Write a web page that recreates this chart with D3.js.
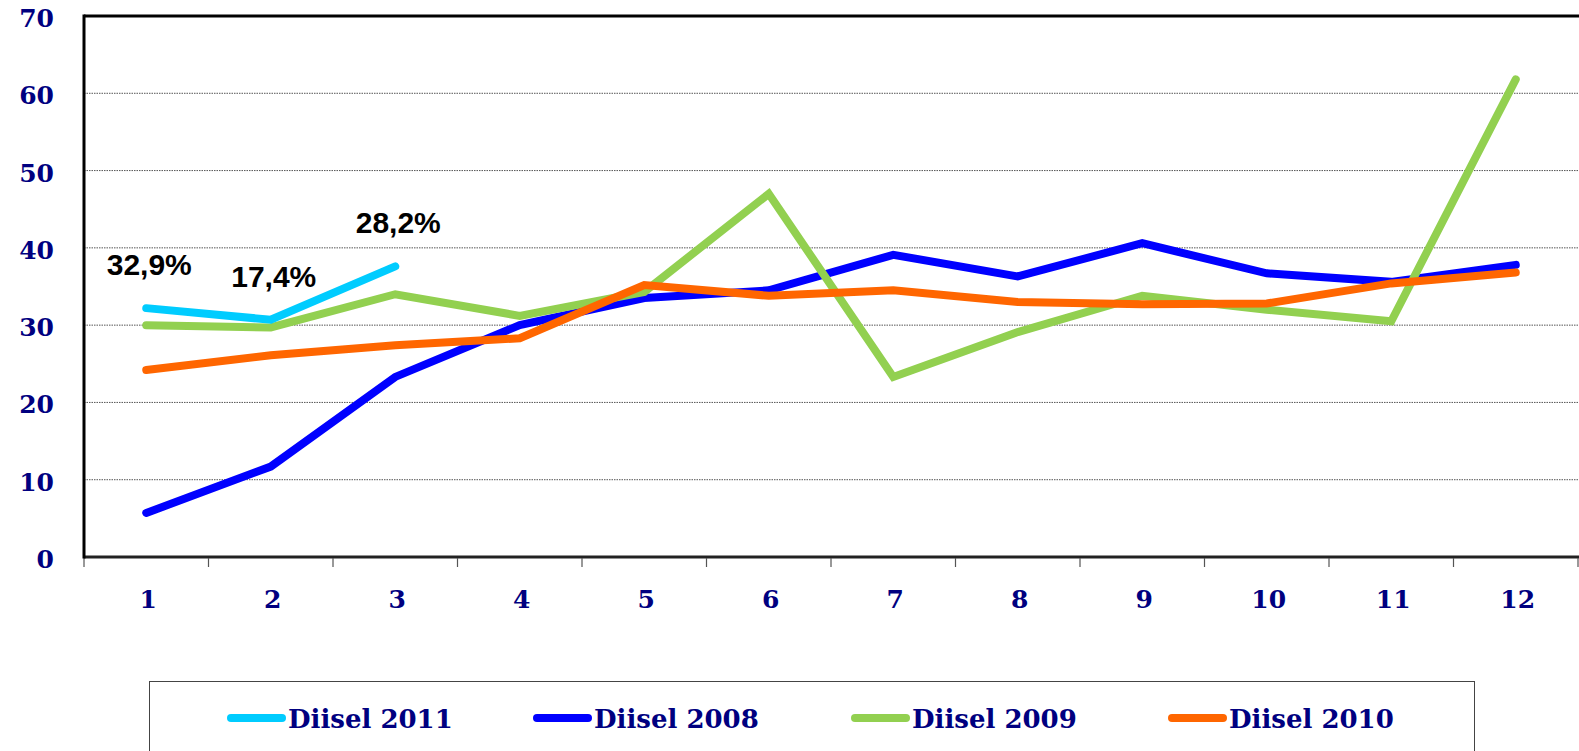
<!DOCTYPE html>
<html>
<head>
<meta charset="utf-8">
<script src="https://cdn.jsdelivr.net/npm/d3@7"></script>
<style>
  body { margin: 0; background: #fff; }
  .axis text { font-family: "DejaVu Serif", serif; font-weight: bold; fill: #000080; }
</style>
</head>
<body>
<svg id="chart"></svg>
<script>
// Months on the x axis
const months = ['1', '2', '3', '4', '5', '6', '7', '8', '9', '10', '11', '12'];
const yTicks = [0, 10, 20, 30, 40, 50, 60, 70];

// Series values
const diisel2011 = [32.2, 30.7, 37.6];
const diisel2008 = [5.7, 11.7, 23.3, 30.0, 33.5, 34.5, 39.1, 36.3, 40.6, 36.7, 35.6, 37.8];
const diisel2009 = [30.0, 29.7, 34.0, 31.2, 34.3, 47.0, 23.3, 29.1, 33.8, 32.0, 30.5, 61.8];
const diisel2010 = [24.2, 26.1, 27.4, 28.3, 35.2, 33.8, 34.5, 33.0, 32.7, 32.8, 35.4, 36.8];
const labels2011 = ['32,9%', '17,4%', '28,2%'];

const seriesNames = ['Diisel 2011', 'Diisel 2008', 'Diisel 2009', 'Diisel 2010'];
const seriesColors = ['#00ccff', '#0000ff', '#92d050', '#ff6600'];

class LineChart {

  constructor(_config) {
    this.config = {
      parentElement: _config.parentElement,
      containerWidth: _config.containerWidth || 1579,
      containerHeight: _config.containerHeight || 751,
      margin: _config.margin || {top: 16, right: 1, bottom: 194, left: 84}
    };
    this.initVis();
  }

  initVis() {
    let vis = this;

    vis.width = vis.config.containerWidth - vis.config.margin.left - vis.config.margin.right;
    vis.height = vis.config.containerHeight - vis.config.margin.top - vis.config.margin.bottom;

    vis.xScale = d3.scaleBand()
        .domain(months)
        .range([0, vis.width]);

    vis.yScale = d3.scaleLinear()
        .domain([0, 70])
        .range([vis.height, 0]);

    vis.svg = d3.select(vis.config.parentElement)
        .attr('width', vis.config.containerWidth)
        .attr('height', vis.config.containerHeight);

    vis.chart = vis.svg.append('g')
        .attr('transform', `translate(${vis.config.margin.left},${vis.config.margin.top})`);

    // dotted gridlines
    vis.chart.append('g')
        .selectAll('line')
        .data(yTicks.filter(d => d > 0 && d < 70))
        .join('line')
        .attr('x1', 0)
        .attr('x2', vis.width)
        .attr('y1', d => vis.yScale(d))
        .attr('y2', d => vis.yScale(d))
        .attr('stroke', '#555')
        .attr('stroke-width', 1)
        .attr('stroke-dasharray', '1.5,1');

    // solid top border
    vis.chart.append('line')
        .attr('x1', 0).attr('x2', vis.width + 2)
        .attr('y1', vis.yScale(70)).attr('y2', vis.yScale(70))
        .attr('stroke', '#000').attr('stroke-width', 3);

    // x axis: ticks between months
    vis.xAxisG = vis.chart.append('g')
        .attr('class', 'axis x-axis')
        .attr('transform', `translate(0,${vis.height})`);

    vis.xAxisG.append('line')
        .attr('x1', 0).attr('x2', vis.width + 2)
        .attr('stroke', '#222').attr('stroke-width', 3);

    vis.xAxisG.selectAll('.tick')
        .data(months.concat(['end']))
        .join('line')
        .attr('class', 'tick')
        .attr('x1', (d, i) => i * vis.xScale.step())
        .attr('x2', (d, i) => i * vis.xScale.step())
        .attr('y1', 1)
        .attr('y2', 10)
        .attr('stroke', '#555')
        .attr('stroke-width', 1.2);

    vis.xAxisG.selectAll('text')
        .data(months)
        .join('text')
        .attr('x', d => vis.xScale(d) + vis.xScale.bandwidth() / 2 + 2)
        .attr('y', 51)
        .attr('text-anchor', 'middle')
        .attr('font-size', 25)
        .text(d => d);

    // y axis
    vis.yAxisG = vis.chart.append('g')
        .attr('class', 'axis y-axis');

    vis.yAxisG.append('line')
        .attr('y1', -1.5).attr('y2', vis.height + 1.5)
        .attr('stroke', '#000').attr('stroke-width', 3);

    vis.yAxisG.selectAll('text')
        .data(yTicks)
        .join('text')
        .attr('x', -30)
        .attr('y', d => vis.yScale(d) + 11)
        .attr('text-anchor', 'end')
        .attr('font-size', 25)
        .text(d => d);

    vis.renderVis();
    vis.renderLegend();
  }

  renderVis() {
    let vis = this;

    vis.line = d3.line()
        .x((d, i) => vis.xScale(months[i]) + vis.xScale.bandwidth() / 2)
        .y(d => vis.yScale(d));

    // drawing order: 2008, 2009, 2010, 2011 on top
    const drawOrder = [
      {values: diisel2008, color: seriesColors[1]},
      {values: diisel2009, color: seriesColors[2]},
      {values: diisel2010, color: seriesColors[3]},
      {values: diisel2011, color: seriesColors[0]}
    ];

    vis.chart.selectAll('.series')
        .data(drawOrder)
        .join('path')
        .attr('class', 'series')
        .attr('d', d => vis.line(d.values))
        .attr('fill', 'none')
        .attr('stroke', d => d.color)
        .attr('stroke-width', 8)
        .attr('stroke-linecap', 'round')
        .attr('stroke-linejoin', 'miter');

    // percent labels over the 2011 points
    vis.chart.selectAll('.pct')
        .data(labels2011)
        .join('text')
        .attr('class', 'pct')
        .attr('x', (d, i) => vis.xScale(months[i]) + vis.xScale.bandwidth() / 2 + 3)
        .attr('y', (d, i) => vis.yScale(diisel2011[i]) - 33)
        .attr('text-anchor', 'middle')
        .attr('font-family', '"Liberation Sans", Arial, sans-serif')
        .attr('font-weight', 'bold')
        .attr('font-size', 30)
        .attr('fill', '#000')
        .text(d => d);
  }

  renderLegend() {
    let vis = this;

    const legend = vis.svg.append('g')
        .attr('transform', 'translate(149.5,681.5)');

    legend.append('rect')
        .attr('width', 1325)
        .attr('height', 90)
        .attr('fill', '#fff')
        .attr('stroke', '#444')
        .attr('stroke-width', 1);

    const itemX = [77.5, 383.5, 701.5, 1018.5];

    const items = legend.selectAll('.item')
        .data(seriesNames)
        .join('g')
        .attr('class', 'item')
        .attr('transform', (d, i) => `translate(${itemX[i]},36.5)`);

    items.append('line')
        .attr('x1', 4).attr('x2', 55)
        .attr('stroke', (d, i) => seriesColors[i])
        .attr('stroke-width', 8)
        .attr('stroke-linecap', 'round');

    items.append('text')
        .attr('x', 61)
        .attr('y', 10)
        .attr('font-family', '"DejaVu Serif", Georgia, serif')
        .attr('font-weight', 'bold')
        .attr('font-size', 26)
        .attr('fill', '#000080')
        .text(d => d);
  }
}

new LineChart({parentElement: '#chart'});
</script>
</body>
</html>
